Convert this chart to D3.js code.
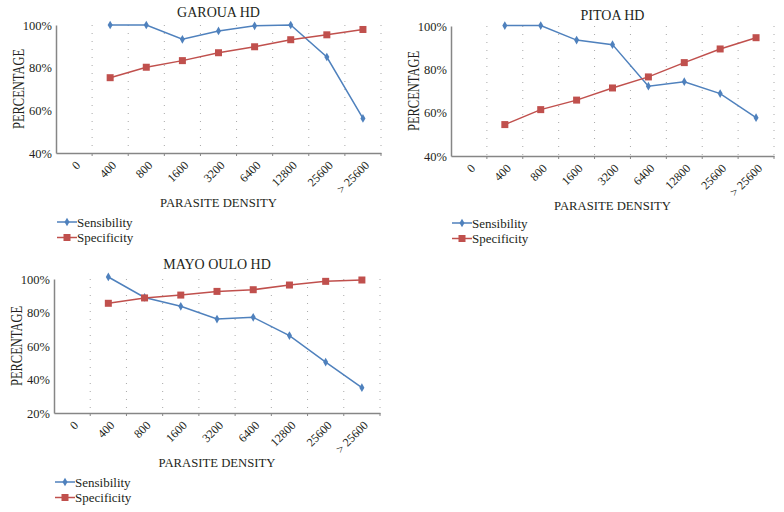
<!DOCTYPE html>
<html>
<head>
<meta charset="utf-8">
<script src="https://cdn.jsdelivr.net/npm/d3@7"></script>
<style>
  body { margin: 0; background: #fff; }
</style>
</head>
<body>
<svg id="vis" width="784" height="512" font-family="Liberation Serif"></svg>
<script>
// Categorías de densidad parasitaria
const categories = ["0", "400", "800", "1600", "3200", "6400", "12800", "25600", "> 25600"];

// Valores (null = sin punto)
const garouaSens = [null, 100, 100, 93.3, 97.2, 99.6, 100, 85, 56.2];
const garouaSpec = [null, 75.3, 80.2, 83.3, 87, 89.8, 93.1, 95.4, 97.9];
const pitoaSens  = [null, 100.2, 100.2, 93.5, 91.4, 72.2, 74.3, 68.8, 57.7];
const pitoaSpec  = [null, 54.5, 61.4, 65.8, 71.4, 76.5, 83.1, 89.4, 94.6];
const mayoSens   = [null, 101.2, 89, 83.7, 76.1, 77.1, 66.2, 50.4, 35.1];
const mayoSpec   = [null, 85.5, 88.7, 90.4, 92.6, 93.6, 96.4, 98.6, 99.4];

const ticksA = [40, 60, 80, 100];
const ticksB = [20, 40, 60, 80, 100];

const seriesNames = ["Sensibility", "Specificity"];
const colors = ["#4f81bd", "#c0504d"];
const FONT = "Liberation Serif";

const SVG = d3.select("#vis");

function txt(sel, size) {
  return sel.attr("font-family", FONT).attr("font-size", size).attr("fill", "#231f20");
}

function panel(opt) {
  const g = SVG.append("g");
  const x = d3.scaleBand().domain(categories).range([opt.left, opt.right]);
  const y = d3.scaleLinear().domain(opt.domain).range([opt.bottom, opt.top]);

  // Líneas de cuadrícula punteadas (bordes de cada banda)
  g.selectAll(".grid")
    .data(categories)
    .join("line")
    .attr("x1", d => x(d) + x.bandwidth())
    .attr("x2", d => x(d) + x.bandwidth())
    .attr("y1", y(opt.domain[1]))
    .attr("y2", opt.bottom)
    .attr("stroke", "#a8a8a8")
    .attr("stroke-width", 1)
    .attr("stroke-dasharray", "1,7");

  // Pequeñas marcas bajo el eje X
  g.selectAll(".xt")
    .data(categories)
    .join("line")
    .attr("x1", d => x(d) + x.bandwidth())
    .attr("x2", d => x(d) + x.bandwidth())
    .attr("y1", opt.bottom)
    .attr("y2", opt.bottom + 3)
    .attr("stroke", "#868686");

  // Eje Y
  const yAxis = d3.axisLeft(y).tickValues(opt.ticks).tickSize(0).tickPadding(4)
    .tickFormat(d => d + "%");
  const ya = g.append("g").attr("transform", `translate(${opt.left},0)`).call(yAxis)
    .attr("font-family", FONT);
  ya.select(".domain").attr("stroke", "#868686").attr("stroke-width", 1.5);
  txt(ya.selectAll("text"), 12.5);

  // Eje X
  const xa = g.append("g").attr("transform", `translate(0,${opt.bottom})`)
    .call(d3.axisBottom(x).tickSize(0).tickFormat(""));
  xa.select(".domain").attr("stroke", "#868686").attr("stroke-width", 1.5);

  txt(g.selectAll(".xlab")
    .data(categories)
    .join("text")
    .attr("transform", d => `translate(${x(d) + x.bandwidth() / 2 + 1},${opt.bottom + 7}) rotate(-45)`)
    .attr("text-anchor", "end")
    .attr("dy", "0.7em"), 12)
    .text(d => d);

  // Títulos
  txt(g.append("text")
    .attr("x", (opt.left + opt.right) / 2)
    .attr("y", opt.titleY)
    .attr("text-anchor", "middle"), 14)
    .text(opt.title);

  txt(g.append("text")
    .attr("x", (opt.left + opt.right) / 2)
    .attr("y", opt.bottom + 54)
    .attr("text-anchor", "middle"), 12.7)
    .text("PARASITE DENSITY");

  txt(g.append("text")
    .attr("transform", `translate(${opt.left - 32},${(opt.top + opt.bottom) / 2}) rotate(-90)`)
    .attr("text-anchor", "middle")
    .attr("textLength", 80)
    .attr("lengthAdjust", "spacingAndGlyphs"), 17)
    .text("PERCENTAGE");

  // Series
  const line = d3.line()
    .defined(d => d.v !== null)
    .x(d => x(d.c) + x.bandwidth() / 2)
    .y(d => y(d.v));

  [opt.sens, opt.spec].forEach((vals, i) => {
    const pts = categories.map((c, j) => ({ c: c, v: vals[j] }));
    g.append("path")
      .datum(pts)
      .attr("fill", "none")
      .attr("stroke", colors[i])
      .attr("stroke-width", 1.5)
      .attr("d", line);

    const valid = pts.filter(d => d.v !== null);
    if (i === 0) {
      g.selectAll(".mk" + i)
        .data(valid)
        .join("path")
        .attr("d", d3.symbol(d3.symbolDiamond, 22))
        .attr("transform", d => `translate(${x(d.c) + x.bandwidth() / 2},${y(d.v)})`)
        .attr("fill", colors[i]);
    } else {
      g.selectAll(".mk" + i)
        .data(valid)
        .join("rect")
        .attr("x", d => x(d.c) + x.bandwidth() / 2 - 3.5)
        .attr("y", d => y(d.v) - 3.5)
        .attr("width", 7)
        .attr("height", 7)
        .attr("fill", colors[i]);
    }
  });

  // Leyenda
  const lg = g.append("g").attr("transform", `translate(${opt.left + 1},${opt.legendY})`);
  seriesNames.forEach((name, i) => {
    const row = lg.append("g").attr("transform", `translate(0,${i * 15.5})`);
    row.append("line").attr("x1", 0).attr("x2", 20).attr("y1", 0).attr("y2", 0)
      .attr("stroke", colors[i]).attr("stroke-width", 1.5);
    if (i === 0) {
      row.append("path").attr("d", d3.symbol(d3.symbolDiamond, 22))
        .attr("transform", "translate(10,0)").attr("fill", colors[i]);
    } else {
      row.append("rect").attr("x", 6.5).attr("y", -3.5).attr("width", 7).attr("height", 7)
        .attr("fill", colors[i]);
    }
    txt(row.append("text").attr("x", 20).attr("y", 0).attr("dy", "0.35em"), 13).text(name);
  });
}

panel({ title: "GAROUA HD", left: 56, right: 381, top: 25, bottom: 153, titleY: 17,
  domain: [40, 100], ticks: ticksA, sens: garouaSens, spec: garouaSpec, legendY: 222 });
panel({ title: "PITOA HD", left: 451, right: 774, top: 26, bottom: 156, titleY: 20,
  domain: [40, 100], ticks: ticksA, sens: pitoaSens, spec: pitoaSpec, legendY: 223 });
panel({ title: "MAYO OULO HD", left: 54, right: 380, top: 279, bottom: 413, titleY: 269,
  domain: [20, 100], ticks: ticksB, sens: mayoSens, spec: mayoSpec, legendY: 482 });
</script>
</body>
</html>
